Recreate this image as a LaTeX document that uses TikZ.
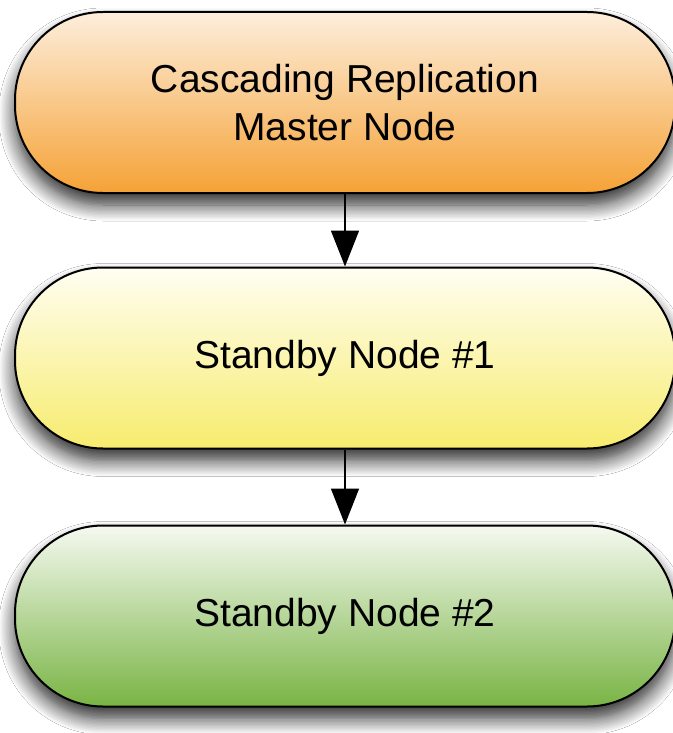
\documentclass[tikz,border=0pt]{standalone}
\usepackage{fontspec}
\setmainfont{Liberation Sans}
\usetikzlibrary{arrows.meta,shadows.blur}
\definecolor{orTop}{HTML}{FDEEDC}
\definecolor{orBot}{HTML}{F5A236}
\definecolor{yeTop}{HTML}{FFFEF2}
\definecolor{yeBot}{HTML}{F7EC6E}
\definecolor{grTop}{HTML}{F5F9F0}
\definecolor{grBot}{HTML}{79B444}
\tikzset{
  pill/.style={draw=black, line width=1pt, rectangle, rounded corners=44pt,
    minimum width=330pt, minimum height=90.5pt, inner sep=0pt, align=center,
    font=\fontsize{19.5}{24}\selectfont,
    blur shadow={shadow xshift=0pt, shadow yshift=-6pt, shadow blur radius=8pt, shadow opacity=85, shadow blur steps=12}},
  conn/.style={line width=0.8pt, -{Triangle[length=18pt,width=14pt]}}
}
\begin{document}
\begin{tikzpicture}[x=0.5pt,y=-0.5pt]
\useasboundingbox[fill=white] (0,0) rectangle (673,733);
\node[pill, top color=orTop, bottom color=orBot] (m) at (345,102.5) {Cascading Replication\\Master Node};
\node[pill, top color=yeTop, bottom color=yeBot] (s1) at (345,358) {Standby Node \#1};
\node[pill, top color=grTop, bottom color=grBot] (s2) at (345,616) {Standby Node \#2};
\draw[conn] (m.south) -- (s1.north);
\draw[conn] (s1.south) -- (s2.north);
\end{tikzpicture}
\end{document}
